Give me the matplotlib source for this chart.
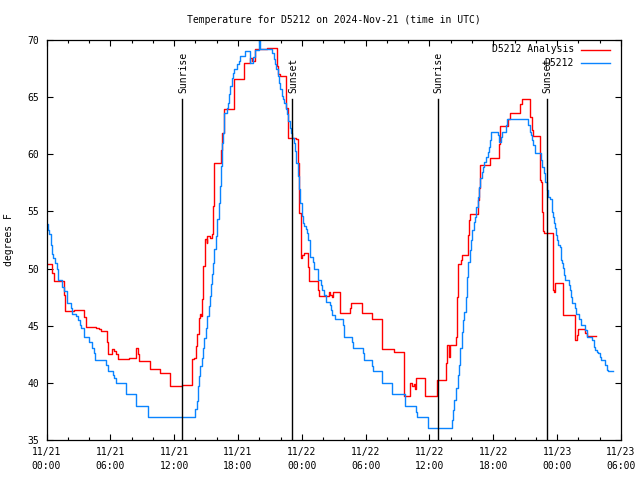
import matplotlib
matplotlib.use("Agg")
import matplotlib.pyplot as plt
from matplotlib.lines import Line2D
from matplotlib.ticker import MultipleLocator, FixedLocator

# ---- data (hours since 2024-11-21 00:00 UTC) ----
red_hours = [0.0, 0.56, 0.69, 1.63, 1.75, 2.63, 3.57, 3.69, 4.63, 4.91, 5.13, 5.70, 5.76,
             6.13, 6.20, 6.32, 6.57, 6.70, 7.76, 8.39, 8.64, 8.70, 9.70, 10.64, 11.64, 12.71,
             13.72, 13.85, 14.04, 14.16, 14.29, 14.47, 14.54, 14.66, 14.73, 14.91, 15.04,
             15.10, 15.41, 15.60, 15.66, 15.79, 16.42, 16.48, 16.67, 17.67, 18.61, 19.17,
             19.36, 19.61, 20.74, 21.67, 21.80, 21.93, 22.55, 22.67, 23.49, 23.68, 23.74,
             23.96, 24.05, 24.17, 24.58, 24.68, 25.55, 25.61, 26.55, 26.68, 26.80, 26.93,
             27.62, 28.56, 28.62, 29.62, 30.62, 31.56, 32.63, 33.63, 34.19, 34.32, 34.50,
             34.63, 34.69, 35.57, 36.67, 37.57, 37.64, 37.83, 37.89, 38.51, 38.58, 38.70,
             38.95, 39.08, 39.58, 39.70, 39.83, 40.58, 40.64, 40.70, 41.64, 42.49, 42.58,
             43.37, 43.52, 44.52, 44.65, 45.46, 45.59, 45.71, 46.40, 46.50, 46.59, 46.65,
             46.78, 47.59, 47.65, 47.72, 47.84, 48.59, 49.63, 49.84, 49.97, 50.66, 50.78, 51.66]
red_temps = [50.38, 49.62, 48.90, 47.67, 46.28, 46.37, 45.78, 44.91, 44.83, 44.68, 44.51, 43.60, 42.50,
             42.65, 42.99, 42.82, 42.50, 42.06, 42.15, 43.02, 42.50, 41.89, 41.19, 40.84, 39.71, 39.80,
             42.06, 42.20, 43.23, 44.25, 45.71, 46.00, 45.85, 47.31, 50.23, 52.56, 52.27,
             52.85, 52.71, 53.00, 55.48, 59.27, 60.38, 61.89, 63.93, 66.56, 68.02, 68.45,
             68.16, 69.18, 69.33, 67.73, 67.00, 66.85, 64.08, 61.45, 61.31, 59.27, 54.89,
             50.90, 51.19, 51.40, 50.17, 48.92, 48.13, 47.61, 47.93, 47.69, 47.49, 47.93,
             46.12, 46.53, 46.99, 46.12, 45.59, 42.97, 42.68, 38.86, 40.02, 39.73, 39.88,
             39.44, 40.40, 38.86, 40.26, 41.72, 43.32, 42.30, 43.29, 44.05, 47.55, 50.38,
             50.76, 51.19, 52.94, 54.26, 54.75, 56.00, 57.03, 59.07, 59.65, 60.91, 62.48,
             63.06, 63.65, 64.38, 64.81, 63.30, 62.13, 61.61, 57.76, 57.60, 54.98, 53.32,
             53.14, 50.60, 48.13, 47.98, 48.71, 45.94, 43.75, 44.19, 44.69, 44.34, 44.10, 44.10]

blue_hours = [0.0, 0.13, 0.25, 0.38, 0.50, 0.63, 0.81, 0.94, 1.06, 1.50, 1.63, 1.88, 1.94,
              2.32, 2.44, 2.75, 3.00, 3.13, 3.26, 3.51, 4.01, 4.26, 4.44, 4.57, 5.57, 5.76,
              6.26, 6.38, 6.57, 7.45, 8.45, 9.51, 9.58, 13.94, 14.10, 14.26, 14.35, 14.47,
              14.60, 14.73, 14.85, 14.98, 15.10, 15.23, 15.34, 15.48, 15.57, 15.66, 15.79,
              15.92, 16.04, 16.17, 16.29, 16.42, 16.54, 16.60, 16.73, 16.92, 17.04, 17.17,
              17.29, 17.42, 17.54, 17.67, 17.92, 18.05, 18.17, 18.67, 19.17, 19.42, 19.57,
              20.00, 20.10, 21.23, 21.35, 21.48, 21.60, 21.73, 21.86, 21.99, 22.11, 22.24,
              22.36, 22.49, 22.61, 22.74, 22.86, 22.99, 23.12, 23.24, 23.37, 23.49, 23.62,
              23.74, 23.87, 23.99, 24.12, 24.24, 24.37, 24.50, 24.62, 24.74, 24.80, 25.05,
              25.11, 25.55, 25.83, 25.90, 26.05, 26.24, 26.62, 26.74, 26.87, 27.09, 27.87,
              27.93, 28.00, 28.68, 28.81, 29.75, 29.87, 30.62, 30.68, 31.50, 31.56, 32.44,
              33.66, 34.75, 34.82, 35.82, 38.08, 38.20, 38.33, 38.51, 38.64, 38.76, 38.89,
              39.01, 39.14, 39.27, 39.39, 39.52, 39.64, 39.77, 39.89, 40.02, 40.14, 40.27,
              40.39, 40.52, 40.64, 40.77, 40.89, 41.02, 41.14, 41.33, 41.46, 41.58, 41.71,
              41.77, 42.46, 42.52, 42.71, 42.83, 43.15, 43.33, 45.27, 45.40, 45.52, 45.65,
              45.77, 45.96, 46.46, 46.59, 46.78, 46.90, 47.03, 47.15, 47.28, 47.47, 47.53,
              47.65, 47.72, 47.84, 47.90, 48.03, 48.09, 48.28, 48.34, 48.40, 48.47, 48.53,
              48.66, 48.78, 49.09, 49.16, 49.28, 49.41, 49.66, 49.78, 50.09, 50.22, 50.66,
              50.78, 51.28, 51.47, 51.60, 51.79, 51.85, 52.04, 52.16, 52.54, 52.66, 52.79, 53.22]
blue_temps = [53.87, 53.40, 53.05, 52.03, 51.31, 50.96, 50.49, 50.00, 48.98, 48.40, 48.05, 47.38, 47.03,
              46.51, 46.02, 45.84, 45.49, 45.06, 44.77, 44.04, 43.60, 43.08, 42.59, 42.01, 41.57, 41.08,
              40.73, 40.41, 40.00, 39.04, 37.99, 37.50, 37.01, 37.69, 38.42, 39.73, 40.60, 41.48,
              42.21, 43.08, 43.96, 44.83, 45.85, 46.73, 47.60, 48.62, 49.50, 50.52, 51.69,
              52.85, 54.31, 55.77, 57.23, 58.98, 61.02, 61.89, 63.64, 64.08, 64.52, 65.25,
              65.98, 66.70, 67.14, 67.43, 67.87, 68.16, 68.60, 69.04, 67.96, 68.54, 69.13,
              70.00, 69.18, 68.89, 68.31, 67.87, 67.43, 66.85, 66.27, 65.68, 65.10, 64.81,
              64.52, 63.93, 63.50, 62.91, 62.33, 61.89, 61.45, 61.02, 60.29, 59.27, 58.10,
              56.93, 55.77, 54.60, 54.02, 53.73, 53.44, 53.10, 52.50, 51.90, 51.05, 50.60,
              50.00, 49.00, 48.57, 48.13, 47.70, 47.10, 46.80, 46.40, 45.94, 45.59, 45.07,
              44.63, 43.99, 43.61, 43.03, 42.59, 42.00, 41.48, 41.04, 40.55, 39.96, 39.03,
              37.98, 37.49, 36.99, 36.03, 36.76, 37.63, 38.51, 39.53, 40.70, 41.57, 43.03,
              44.49, 45.51, 46.24, 47.55, 49.30, 50.61, 51.63, 52.51, 53.38, 54.11, 54.55,
              55.42, 56.30, 57.17, 57.90, 58.49, 58.92, 59.36, 59.80, 60.23, 60.67, 61.26,
              61.98, 61.69, 61.11, 61.55, 61.98, 62.57, 63.06, 62.57, 61.98, 61.69, 61.26,
              60.82, 60.09, 59.51, 58.92, 58.34, 57.61, 56.88, 56.29, 56.06, 55.56, 54.98,
              54.54, 53.96, 53.52, 52.94, 52.50, 52.06, 51.86, 51.33, 50.75, 50.46, 50.02,
              49.44, 49.00, 48.56, 48.13, 47.54, 47.02, 46.52, 46.03, 45.56, 45.06, 44.63,
              43.98, 43.75, 43.17, 42.88, 42.73, 42.59, 42.29, 42.00, 41.56, 41.13, 41.04, 41.04]

sun_hours = [12.75, 23.1, 36.77, 47.02]
sun_labels = ["Sunrise", "Sunset", "Sunrise", "Sunset"]

tick_hours = [0, 6, 12, 18, 24, 30, 36, 42, 48, 54]
tick_labels = ["11/21\n00:00", "11/21\n06:00", "11/21\n12:00", "11/21\n18:00",
               "11/22\n00:00", "11/22\n06:00", "11/22\n12:00", "11/22\n18:00",
               "11/23\n00:00", "11/23\n06:00"]
y_ticks = [35, 40, 45, 50, 55, 60, 65, 70]

title = "Temperature for D5212 on 2024-Nov-21 (time in UTC)"
red_name = "D5212 Analysis"
blue_name = "D5212"
red_color = "#ff0000"
blue_color = "#0a84ff"

FONT = "DejaVu Sans Mono"
FS = 7
W, H = 640.0, 480.0

fig = plt.figure(figsize=(6.4, 4.8), dpi=100)
ax = fig.add_axes([46.5 / W, 40 / H, (621 - 46.5) / W, 400 / H])

ax.plot(red_hours, red_temps, drawstyle="steps-post", color=red_color, lw=1.0)
ax.plot(blue_hours, blue_temps, drawstyle="steps-post", color=blue_color, lw=1.0)

for h, lab in zip(sun_hours, sun_labels):
    ax.plot([h, h], [35, 64.85], color="black", lw=1.0)
    ax.text(h + 0.08, 65.35, lab, rotation=90, ha="center", va="bottom",
            family=FONT, fontsize=FS)

ax.set_xlim(0, 54)
ax.set_ylim(35, 70)
ax.xaxis.set_major_locator(FixedLocator(tick_hours))
ax.set_xticklabels(tick_labels, family=FONT, fontsize=FS, linespacing=1.45)
ax.xaxis.set_minor_locator(MultipleLocator(2))
ax.set_yticks(y_ticks)
ax.set_yticklabels([str(v) for v in y_ticks], family=FONT, fontsize=FS)
ax.tick_params(which="both", direction="in", top=True, right=True, width=0.8)
ax.tick_params(which="major", length=4.5)
ax.tick_params(axis="x", which="major", pad=5)
ax.tick_params(axis="y", which="major", pad=5)
ax.tick_params(which="minor", length=2.5)
for s in ax.spines.values():
    s.set_linewidth(0.9)

ax.set_ylabel("degrees F", family=FONT, fontsize=FS)
ax.yaxis.set_label_coords(-0.057, 0.5)

fig.text(334 / W, 1 - 20 / H, title, ha="center", va="center", family=FONT, fontsize=FS)

# key (top right, text right-aligned, sample line to the right)
for name, color, ypix in [(red_name, red_color, 49.5), (blue_name, blue_color, 62.5)]:
    fig.text(574 / W, 1 - ypix / H, name, ha="right", va="center", family=FONT, fontsize=FS)
    fig.add_artist(Line2D([581 / W, 609.5 / W], [1 - ypix / H, 1 - ypix / H],
                          transform=fig.transFigure, color=color, lw=1.0))

fig.savefig("out.png", dpi=100)
